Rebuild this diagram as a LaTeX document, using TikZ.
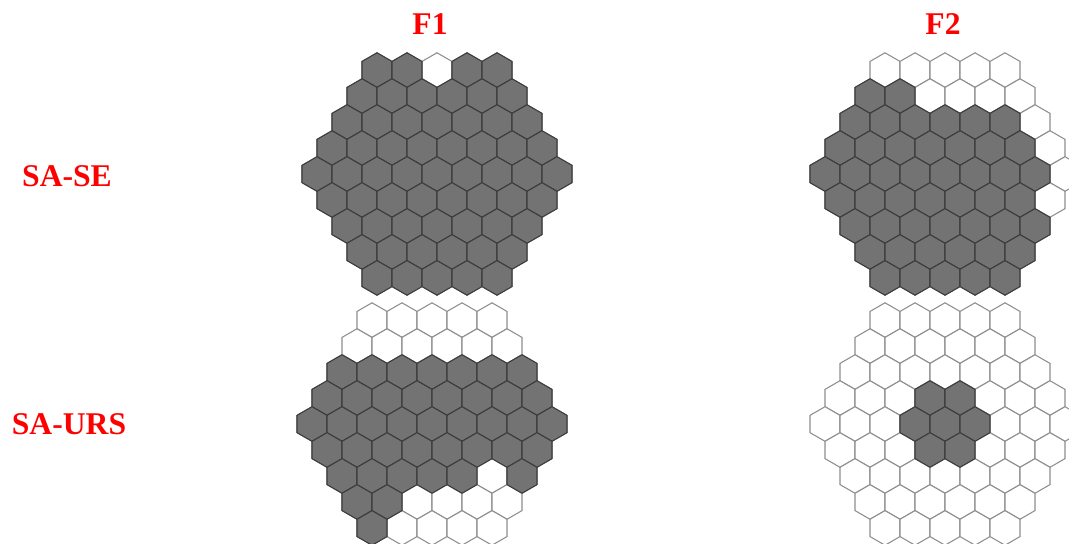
\documentclass[tikz,border=0pt]{standalone}
\usepackage{fontspec}
\setmainfont{Liberation Serif}
\usepackage{tikz}
\usetikzlibrary{positioning}
\definecolor{CellGray}{HTML}{737373}
\definecolor{CellEdge}{HTML}{3C3C3C}
\definecolor{BlankEdge}{HTML}{8E8E8E}
\definecolor{TitleRed}{HTML}{FF0000}
\tikzset{
  filled/.style={fill=CellGray,draw=CellEdge,line width=0.6pt},
  blank/.style={fill=white,draw=BlankEdge,line width=0.6pt},
  ttl/.style={font=\fontsize{18}{20}\selectfont\bfseries,text=TitleRed,inner sep=0pt}
}
% one pointy-top cell, centre (#1,#2)
\newcommand\hexcell[3]{%
  \draw[#3] (#1,#2) +(90:17.3) -- +(150:17.3) -- +(210:17.3)
    -- +(270:17.3) -- +(330:17.3) -- +(30:17.3) -- cycle;}
% 61 cells round (#1,#2); #3 = gray runs row/first/last
\newcommand\hexgrid[3]{%
  \foreach \r in {0,...,8}{
    \pgfmathtruncatemacro\n{9-abs(\r-4)}
    \foreach \i in {1,...,\n}{
      \pgfmathsetmacro\hx{#1+(\i-1-(\n-1)/2)*30}
      \pgfmathsetmacro\hy{#2+(\r-4)*25.98}
      \hexcell{\hx}{\hy}{blank}}}
  \foreach \r/\a/\b in {#3}{
    \pgfmathtruncatemacro\n{9-abs(\r-4)}
    \foreach \i in {\a,...,\b}{
      \pgfmathsetmacro\hx{#1+(\i-(\n-1)/2)*30}
      \pgfmathsetmacro\hy{#2+(\r-4)*25.98}
      \hexcell{\hx}{\hy}{filled}}}}

\begin{document}
\begin{tikzpicture}[x=0.02cm,y=-0.02cm]
  \useasboundingbox (0,0) rectangle (1069,544);
  \begin{scope}
    \clip (0,0) rectangle (1069,544);
    % F1 / SA-SE
    \hexgrid{437}{174}{0/0/1,0/3/4,1/0/5,2/0/6,3/0/7,4/0/8,5/0/7,6/0/6,7/0/5,8/0/4}
    % F2 / SA-SE
    \hexgrid{945}{174}{1/0/1,2/0/5,3/0/6,4/0/7,5/0/6,6/0/6,7/0/5,8/0/4}
    % F1 / SA-URS
    \hexgrid{432}{424}{2/0/6,3/0/7,4/0/8,5/0/7,6/0/4,6/6/6,7/0/1,8/0/0}
    % F2 / SA-URS
    \hexgrid{945}{424}{3/3/4,4/3/5,5/3/4}
  \end{scope}

  \node[ttl] (f1) at (430,24) {F1};
  \node[ttl] (f2) at (943,24) {F2};
  \node[ttl] (sase) at (67,176) {SA-SE};
  \node[ttl] (saurs) at (69,424) {SA-URS};
\end{tikzpicture}
\end{document}
